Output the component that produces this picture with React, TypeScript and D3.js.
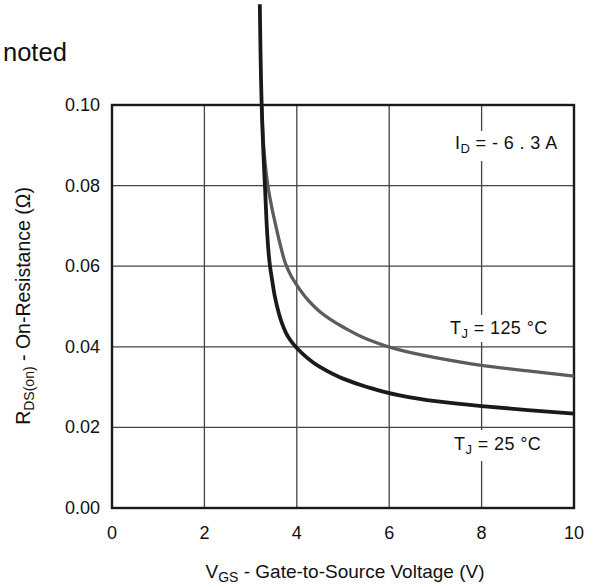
import React from "react";
import * as d3 from "d3";

const xTicks = [0, 2, 4, 6, 8, 10];
const yTicks = [0.0, 0.02, 0.04, 0.06, 0.08, 0.1];
const yTickLabels = ["0.00", "0.02", "0.04", "0.06", "0.08", "0.10"];

const vgs25 = [3.2, 3.24, 3.31, 3.42, 3.46, 3.53, 3.6, 3.67, 3.76, 3.85, 4.0, 4.5, 5.0, 5.5, 6.2, 7.0, 8.0, 9.0, 10.0];
const r25 = [0.125, 0.1, 0.08, 0.06, 0.057, 0.0522, 0.0488, 0.0461, 0.0436, 0.0418, 0.0397, 0.035, 0.0321, 0.0301, 0.028, 0.0265, 0.0253, 0.0243, 0.0234];

const vgs125 = [3.24, 3.27, 3.32, 3.38, 3.46, 3.56, 3.66, 3.76, 3.88, 4.0, 4.25, 4.5, 5.0, 5.5, 6.2, 7.0, 8.0, 9.0, 10.0];
const r125 = [0.1, 0.092, 0.085, 0.0795, 0.0745, 0.0693, 0.0645, 0.0605, 0.0575, 0.0553, 0.0515, 0.0487, 0.0449, 0.042, 0.0393, 0.0373, 0.0354, 0.034, 0.0327];

export default function App() {
  const W = 594, H = 587;
  const L = 112, R = 574, T = 105, B = 508;
  const x = d3.scaleLinear().domain([0, 10]).range([L, R]);
  const y = d3.scaleLinear().domain([0, 0.1]).range([B, T]);
  const line = d3.line<[number, number]>().x(d => x(d[0])).y(d => y(d[1])).curve(d3.curveMonotoneY);
  const d25 = line(vgs25.map((v, i) => [v, r25[i]] as [number, number]))!;
  const d125 = line(vgs125.map((v, i) => [v, r125[i]] as [number, number]))!;
  const font = "'Liberation Sans', Arial, Helvetica, sans-serif";
  const gridColor = "#444";

  const Label = ({ xx, yy, main, sub, rest, w, top, bot }: any) => (
    <g>
      <rect x={xx - 4} y={yy - top} width={w} height={top + bot} fill="#fff" />
      <text x={xx} y={yy} fontSize={18} letterSpacing={0.4} fontFamily={font} fill="#111">
        {main}
        <tspan fontSize={13} dy={4}>{sub}</tspan>
        <tspan dy={-4}>{rest}</tspan>
      </text>
    </g>
  );

  return (
    <svg width={W} height={H} style={{ position: "absolute", left: 0, top: 0, background: "#fff" }}>
      <rect x={0} y={0} width={W} height={H} fill="#fff" />
      <text x={3} y={61} fontSize={25.5} fontFamily={font} fill="#111">noted</text>
      {xTicks.slice(1, -1).map(t => (
        <line key={"gx" + t} x1={x(t)} x2={x(t)} y1={T} y2={B} stroke={gridColor} strokeWidth={1.3} />
      ))}
      {yTicks.slice(1, -1).map(t => (
        <line key={"gy" + t} x1={L} x2={R} y1={y(t)} y2={y(t)} stroke={gridColor} strokeWidth={1.3} />
      ))}
      <Label xx={455} yy={149} main="I" sub="D" rest=" = - 6 . 3 A" w={112} top={18} bot={12} />
      <Label xx={450} yy={334} main="T" sub="J" rest=" = 125 °C" w={104} top={19} bot={8} />
      <Label xx={454} yy={450} main="T" sub="J" rest=" = 25 °C" w={95} top={20} bot={11} />
      <rect x={L} y={T} width={R - L} height={B - T} fill="none" stroke="#1a1a1a" strokeWidth={2.4} />
      <path d={d125} fill="none" stroke="#5c5c5c" strokeWidth={3.3} />
      <path d={d25} fill="none" stroke="#1a1a1a" strokeWidth={3.8} />
      {yTicks.map((t, i) => (
        <text key={"yl" + t} x={100} y={y(t) + 6} textAnchor="end" fontSize={18} fontFamily={font} fill="#111">{yTickLabels[i]}</text>
      ))}
      {xTicks.map(t => (
        <text key={"xl" + t} x={x(t)} y={539} textAnchor="middle" fontSize={18} fontFamily={font} fill="#111">{t}</text>
      ))}
      <text x={345} y={578} textAnchor="middle" fontSize={19} fontFamily={font} fill="#111">
        V<tspan fontSize={14} dy={4}>GS</tspan><tspan dy={-4}> - Gate-to-Source Voltage (V)</tspan>
      </text>
      <text transform={`translate(30,306) rotate(-90)`} textAnchor="middle" fontSize={19.5} fontFamily={font} fill="#111">
        R<tspan fontSize={14} dy={4}>DS(on)</tspan><tspan dy={-4}> - On-Resistance (Ω)</tspan>
      </text>
    </svg>
  );
}
